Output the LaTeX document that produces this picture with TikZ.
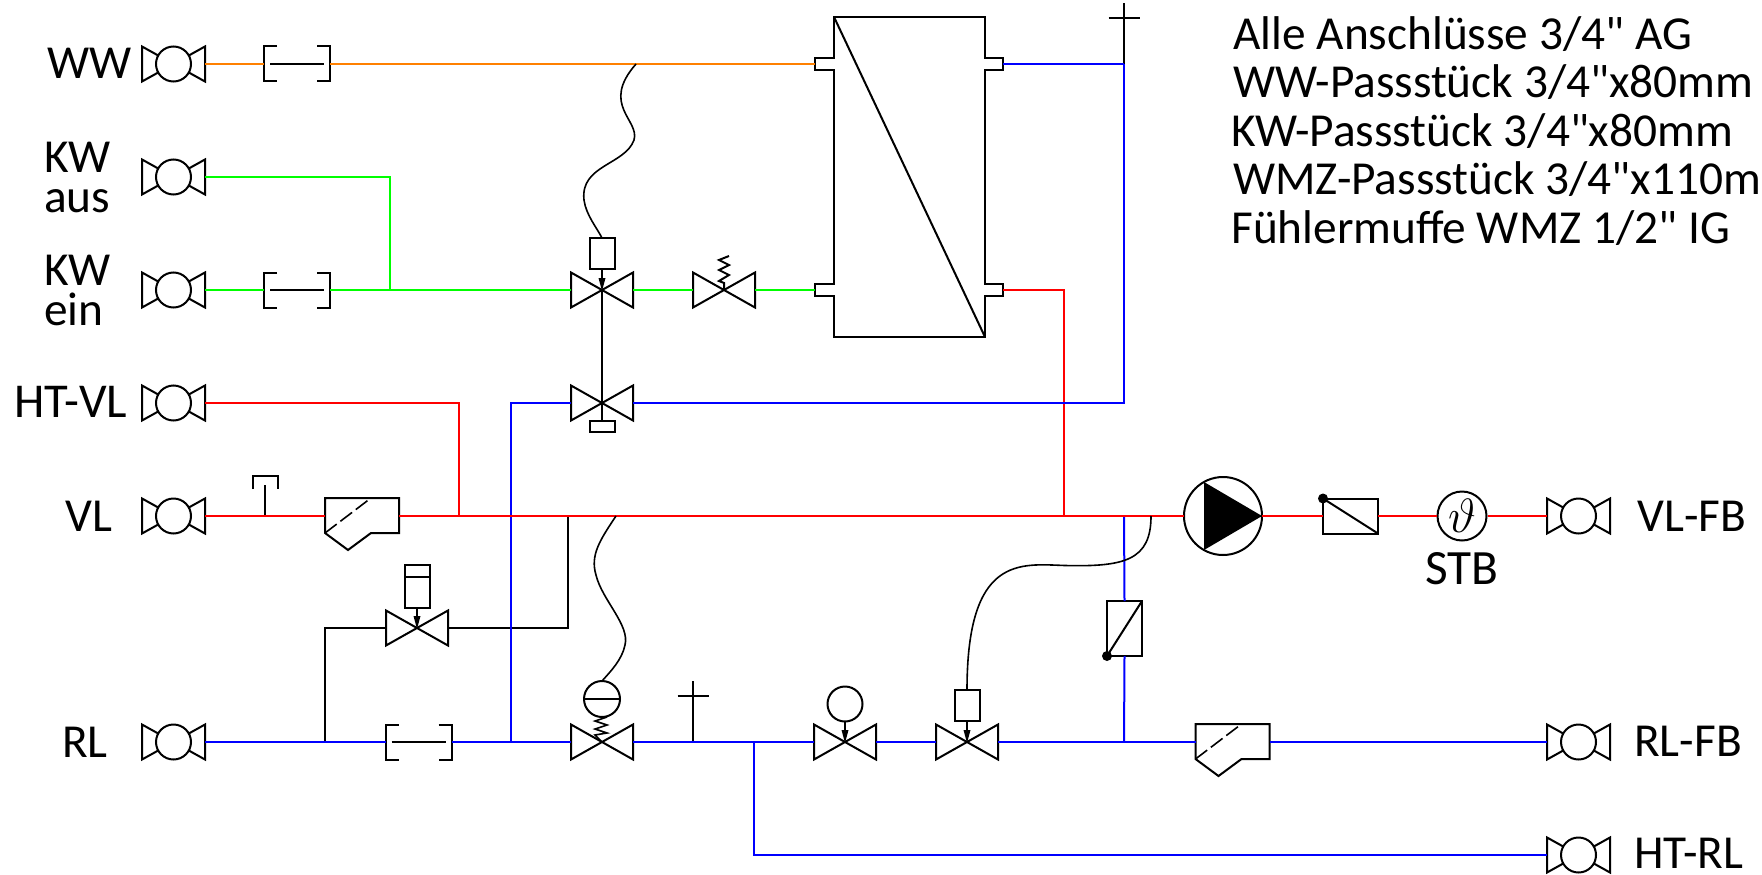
\documentclass[tikz,border=0pt]{standalone}
\usepackage{graphicx}
\usepackage{fontspec}
\setmainfont{Carlito}[Ligatures=TeXOff]
\tikzset{
  x=0.75pt,y=-0.75pt,
  pipew/.style={line width=1.5pt},
  wwpipe/.style={pipew,draw={rgb,255:red,255;green,128;blue,0}},
  kwpipe/.style={pipew,draw={rgb,255:red,0;green,255;blue,0}},
  redpipe/.style={pipew,draw={rgb,255:red,255;green,0;blue,0}},
  bluepipe/.style={pipew,draw={rgb,255:red,0;green,0;blue,255}},
  blackline/.style={line width=1.5pt,draw=black},
  sensorline/.style={line width=1.2pt,draw=black},
  sym/.style={line width=1.5pt,draw=black,fill=white},
  lbl/.style={anchor=base west,inner sep=0pt,font=\fontsize{35.5}{36}\selectfont},
  twolbl/.style={anchor=north west,inner sep=0pt,align=left,font=\fontsize{35.5}{30}\selectfont},
  notelbl/.style={anchor=base west,inner sep=0pt,font=\fontsize{35.5}{38}\selectfont},
  coupling/.pic={
    \draw[sym] (-31.5,-17.5)--(0,0)--(-31.5,17.5)--cycle;
    \draw[sym] (31.5,-17.5)--(0,0)--(31.5,17.5)--cycle;
    \draw[sym] (0,0) circle (17.5);
    \coordinate (-l) at (-31.5,0);
    \coordinate (-r) at (31.5,0);
  },
  fitpiece/.pic={
    \draw[blackline] (-20,-17.5)--(-33,-17.5)--(-33,17.5)--(-20,17.5);
    \draw[blackline] (20,-17.5)--(33,-17.5)--(33,17.5)--(20,17.5);
    \draw[blackline] (-27,0)--(27,0);
    \coordinate (-l) at (-33,0);
    \coordinate (-r) at (33,0);
  },
  valvebody/.pic={
    \draw[sym] (-31,-17.5)--(31,17.5)--(31,-17.5)--(-31,17.5)--cycle;
    \coordinate (-l) at (-31,0);
    \coordinate (-r) at (31,0);
    \coordinate (-c) at (0,0);
  },
  stemarrow/.pic={
    \draw[blackline] (0,-21)--(0,-10);
    \fill[black] (-3.5,-12)--(3.5,-12)--(0,1)--cycle;
  },
  motorvalve/.pic={
    \pic (v) {valvebody};
    \pic {stemarrow};
    \draw[sym] (-12.5,-52) rectangle (12.5,-21);
    \coordinate (-l) at (-31,0);
    \coordinate (-r) at (31,0);
    \coordinate (-c) at (0,0);
    \coordinate (-s) at (0,-52);
  },
  pistonvalve/.pic={
    \pic {valvebody};
    \pic {stemarrow};
    \draw[sym] (-12.5,-63) rectangle (12.5,-20);
    \draw[blackline] (-12.5,-51)--(12.5,-51);
    \coordinate (-l) at (-31,0);
    \coordinate (-r) at (31,0);
  },
  ballvalve/.pic={
    \pic {valvebody};
    \pic {stemarrow};
    \draw[sym] (0,-38) circle (17.5);
    \coordinate (-l) at (-31,0);
    \coordinate (-r) at (31,0);
  },
  diaphvalve/.pic={
    \pic {valvebody};
    \draw[sensorline] (5,-25)--(-7,-21)--(5,-17)--(-7,-13)--(5,-9)--(-7,-7)--(0,0);
    \draw[sym] (0,-43) circle (18);
    \draw[blackline] (-18,-43)--(18,-43);
    \coordinate (-l) at (-31,0);
    \coordinate (-r) at (31,0);
    \coordinate (-s) at (0,-61);
  },
  reliefvalve/.pic={
    \pic {valvebody};
    \draw[blackline] (5,-34)--(-5,-30)--(5,-25)--(-5,-20)--(5,-15)--(-5,-9)--(0,-7)--(0,0);
    \coordinate (-l) at (-31,0);
    \coordinate (-r) at (31,0);
  },
  lowvalve/.pic={
    \pic {valvebody};
    \draw[blackline] (0,0)--(0,17);
    \draw[sym] (-12.5,17.5) rectangle (12.5,29);
    \coordinate (-l) at (-31,0);
    \coordinate (-r) at (31,0);
    \coordinate (-c) at (0,0);
  },
  strainer/.pic={
    \draw[sym] (0,-18)--(74,-18)--(74,17)--(46,17)--(23,34)--(0,17)--cycle;
    \draw[line width=1.2pt,dash pattern=on 11pt off 3.5pt] (0,17)--(46,-18);
    \coordinate (-l) at (0,0);
    \coordinate (-r) at (74,0);
  },
  flowbox/.pic={
    \draw[sym] (-27.5,-17.5) rectangle (27.5,17.5);
    \draw[blackline] (-27.5,-17.5)--(27.5,17.5);
    \fill[black] (-27.5,-17.5) circle (5);
    \coordinate (-l) at (-27.5,0);
    \coordinate (-r) at (27.5,0);
  },
  ventcross/.pic={
    \draw[blackline] (0,0)--(0,-61);
    \draw[blackline] (-15.5,-46)--(15.5,-46);
  },
  gaugeT/.pic={
    \draw[blackline] (0,0)--(0,-31);
    \draw[blackline] (-12.5,-27)--(-12.5,-40)--(12.5,-40)--(12.5,-27);
  },
  pump/.pic={
    \draw[sym] (0,0) circle (39);
    \fill[black] (-19,-34)--(39,0)--(-19,34)--cycle;
    \coordinate (-l) at (-39,0);
    \coordinate (-r) at (39,0);
  },
  heatex/.pic={
    \draw[sym] (834,17)--(985,17)--(985,58)--(1003,58)--(1003,70)--(985,70)--(985,284)--(1003,284)--(1003,296)--(985,296)--(985,337)--(834,337)--(834,296)--(815,296)--(815,284)--(834,284)--(834,70)--(815,70)--(815,58)--(834,58)--cycle;
    \draw[blackline] (834,17)--(985,337);
    \coordinate (-wwport) at (815,64);
    \coordinate (-blueport) at (1003,64);
    \coordinate (-kwport) at (815,290);
    \coordinate (-redport) at (1003,290);
  },
  stbcircle/.style={circle,draw=black,fill=white,line width=1.5pt,minimum size=49*0.75pt,inner sep=0pt},
}
\begin{document}
\begin{tikzpicture}
\useasboundingbox (0,0) rectangle (1762,874);
\clip (0,0) rectangle (1762,874);

% junctions
\coordinate (jkw) at (390,290);
\coordinate (jsenw) at (636,64);
\coordinate (jvent1) at (1124,64);
\coordinate (jvl1) at (459,516);
\coordinate (jbypr) at (568,516);
\coordinate (jsenv) at (616,516);
\coordinate (jret) at (1064,516);
\coordinate (jbv) at (1124,516);
\coordinate (jsenp) at (1151,516);
\coordinate (jbyprl) at (325,742);
\coordinate (jbrl) at (511,742);
\coordinate (jvent2) at (693,742);
\coordinate (jhtrl) at (754,742);
\coordinate (jbvrl) at (1124,742);
\coordinate (jtg) at (265,516);

% symbols (positions)
\pic (cww) at (173.5,64) {coupling};
\pic (ckwa) at (173.5,177) {coupling};
\pic (ckwe) at (173.5,290) {coupling};
\pic (chtvl) at (173.5,403) {coupling};
\pic (cvl) at (173.5,516) {coupling};
\pic (crl) at (173.5,742) {coupling};
\pic (cvlfb) at (1578.5,516) {coupling};
\pic (crlfb) at (1578.5,742) {coupling};
\pic (chtrl) at (1578.5,855) {coupling};
\pic (fww) at (297,64) {fitpiece};
\pic (fkw) at (297,290) {fitpiece};
\pic (frl) at (418.5,742) {fitpiece};
\pic (hx) at (0,0) {heatex};
\pic (vmk) at (602,290) {motorvalve};
\pic (vrel) at (724,290) {reliefvalve};
\pic (vlow) at (602,403) {lowvalve};
\pic (vpis) at (417,628) {pistonvalve};
\pic (vdia) at (602,742) {diaphvalve};
\pic (vball) at (845,742) {ballvalve};
\pic (vmr) at (967,742) {motorvalve};
\pic (svl) at (325,516) {strainer};
\pic (srl) at (1195.5,742) {strainer};
\pic (pu) at (1223,516) {pump};
\pic (fbh) at (1350.5,516) {flowbox};
\pic[rotate=90] (fbv) at (1124.5,628.5) {flowbox};
\pic at (jvent1) {ventcross};
\pic at (jvent2) {ventcross};
\pic at (jtg) {gaugeT};
\node[stbcircle] (stb) at (1462,516) {\scalebox{1.45}{\Huge$\vartheta$}};

% connectors
\draw[wwpipe] (cww-r) -- (fww-l);
\draw[wwpipe] (fww-r) -- (hx-wwport);
\draw[kwpipe] (ckwa-r) -| (jkw);
\draw[kwpipe] (ckwe-r) -- (fkw-l);
\draw[kwpipe] (fkw-r) -- (vmk-l);
\draw[kwpipe] (vmk-r) -- (vrel-l);
\draw[kwpipe] (vrel-r) -- (hx-kwport);
\draw[blackline] (vmk-c) -- (vlow-c);
\draw[blackline] (jbypr) |- (vpis-r);
\draw[blackline] (vpis-l) -| (jbyprl);
\draw[redpipe] (hx-redport) -| (jret);
\draw[redpipe] (chtvl-r) -| (jvl1);
\draw[bluepipe] (hx-blueport) -- (jvent1);
\draw[bluepipe] (jvent1) |- (vlow-r);
\draw[bluepipe] (vlow-l) -| (jbrl);
\draw[bluepipe] (crl-r) -- (frl-l);
\draw[bluepipe] (frl-r) -- (vdia-l);
\draw[bluepipe] (vdia-r) -- (vball-l);
\draw[bluepipe] (vball-r) -- (vmr-l);
\draw[bluepipe] (vmr-r) -- (srl-l);
\draw[bluepipe] (srl-r) -- (crlfb-l);
\draw[bluepipe] (jhtrl) |- (chtrl-l);
\draw[bluepipe] (jbv) -- (fbv-r);
\draw[bluepipe] (fbv-l) -- (jbvrl);
\draw[redpipe] (cvl-r) -- (svl-l);
\draw[redpipe] (svl-r) -- (pu-l);
\draw[redpipe] (pu-r) -- (fbh-l);
\draw[redpipe] (fbh-r) -- (stb);
\draw[redpipe] (stb) -- (cvlfb-l);
\draw[sensorline] (jsenw) .. controls (600,105) and (640,120) .. (634,140) .. controls (625,165) and (580,165) .. (584,200) .. controls (586,215) and (597,228) .. (vmk-s);
\draw[sensorline] (jsenv) .. controls (600,540) and (590,555) .. (596,575) .. controls (602,600) and (630,625) .. (625,645) .. controls (622,660) and (610,672) .. (vdia-s);
\draw[sensorline] (jsenp) .. controls (1151,560) and (1125,567) .. (1065,565.5) .. controls (1020,564) and (967,555) .. (vmr-s);

% labels
\node[lbl] (tww) at (47,79) {WW};
\node[twolbl] (tkwa) at (44,142) {KW\\aus};
\node[twolbl] (tkwe) at (44,255) {KW\\ein};
\node[lbl,font=\fontsize{36.5}{38}\selectfont] (thtvl) at (14,417) {HT-VL};
\node[lbl] (tvl) at (65,531) {VL};
\node[lbl] (trl) at (62,757) {RL};
\node[lbl] (tvlfb) at (1637,531) {VL-FB};
\node[lbl] (trlfb) at (1634,756) {RL-FB};
\node[lbl] (thtrl) at (1634,868) {HT-RL};
\node[lbl,font=\fontsize{37}{38}\selectfont] (tstb) at (1425,584) {STB};
\node[notelbl] (n1) at (1233,50) {Alle Anschlüsse 3/4" AG};
\node[notelbl] (n2) at (1233,98) {WW-Passstück 3/4"x80mm};
\node[notelbl] (n3) at (1231,146) {KW-Passstück 3/4"x80mm};
\node[notelbl] (n4) at (1233,194) {WMZ-Passstück 3/4"x110m};
\node[notelbl] (n5) at (1231,243) {Fühlermuffe WMZ 1/2" IG};
\end{tikzpicture}
\end{document}
